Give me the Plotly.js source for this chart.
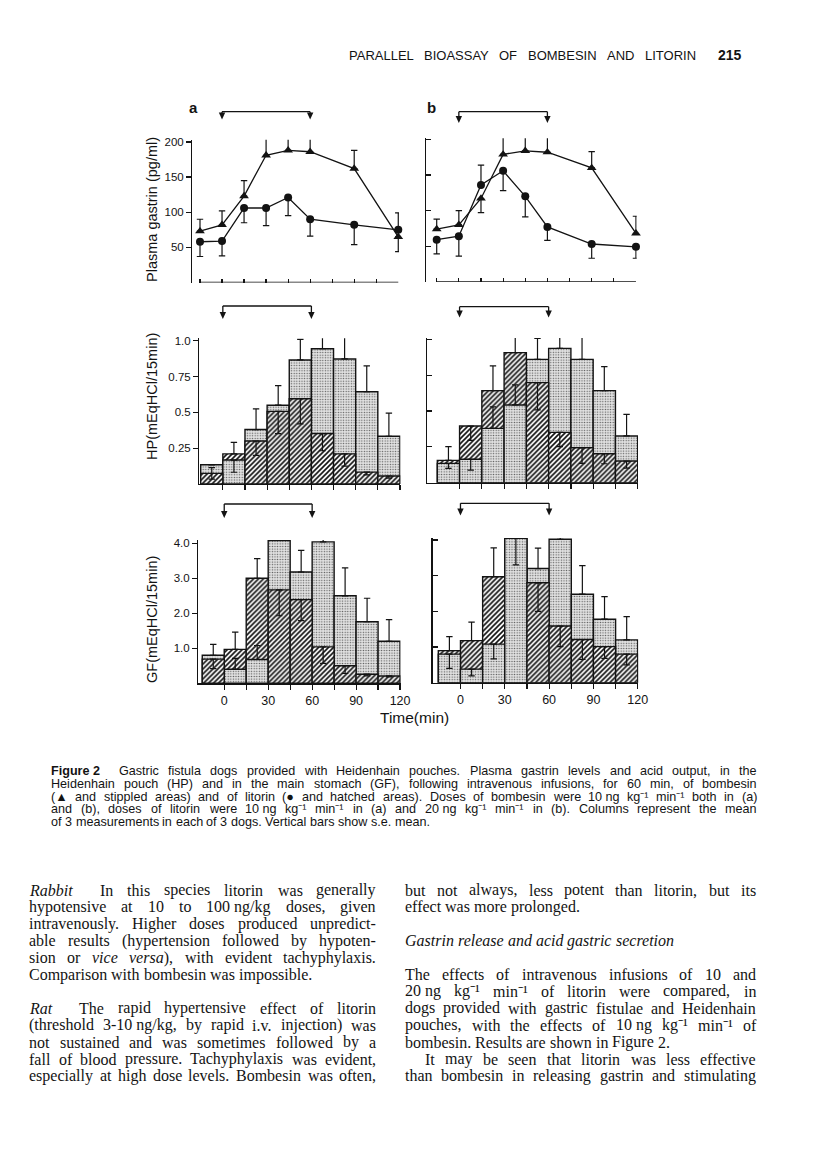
<!DOCTYPE html>
<html><head><meta charset="utf-8">
<script src="https://cdn.plot.ly/plotly-3.0.1.min.js"></script>
<style>html,body{margin:0;padding:0;background:#fff}#chart{width:816px;height:1170px}</style>
</head><body><div id="chart"></div>
<script>
// ================= DATA =================
const gastrinTimes = [-15, 0, 15, 30, 45, 60, 90, 120];
const bombesinGastrinA = [73, 82, 123, 181, 188, 186, 162, 65];
const bombesinGastrinA_errUp = [17, 20, 22, 27, 26, 28, 26, 0];
const bombesinGastrinA_errDown = [0, 0, 0, 0, 0, 0, 0, 21];
const litorinGastrinA = [58, 59, 106, 106, 121, 90, 82, 75];
const litorinGastrinA_errUp = [0, 0, 0, 0, 0, 0, 0, 24];
const litorinGastrinA_errDown = [21, 21, 21, 25, 26, 24, 28, 0];
const bombesinGastrinB = [74, 80, 117, 179, 184, 182, 160, 68];
const bombesinGastrinB_errUp = [14, 20, 0, 26, 25, 28, 23, 24];
const bombesinGastrinB_errDown = [0, 0, 20, 0, 0, 0, 0, 0];
const litorinGastrinB = [59, 64, 136, 156, 120, 77, 53, 49];
const litorinGastrinB_errUp = [0, 0, 28, 0, 0, 0, 0, 0];
const litorinGastrinB_errDown = [20, 28, 0, 28, 29, 19, 20, 16];

const periodMid = [-7.5, 7.5, 22.5, 37.5, 52.5, 67.5, 82.5, 97.5, 112.5];
const periodWidth = 15;

const hpBombesinA = [0.134, 0.167, 0.38, 0.55, 0.866, 0.944, 0.873, 0.644, 0.333];
const hpBombesinA_errUp = [0, 0, 0.145, 0.137, 0.144, 0.144, 0.155, 0.18, 0.162];
const hpBombesinA_errDown = [0, 0.085, 0, 0, 0, 0, 0, 0, 0];
const hpLitorinA = [0.074, 0.21, 0.30, 0.507, 0.595, 0.352, 0.21, 0.083, 0.056];
const hpLitorinA_errUp = [0.04, 0.08, 0, 0, 0, 0, 0, 0, 0];
const hpLitorinA_errDown = [0.04, 0, 0.1, 0.155, 0.175, 0.12, 0.085, 0.02, 0.015];

const hpBombesinB = [0.135, 0.163, 0.379, 0.542, 0.86, 0.937, 0.86, 0.642, 0.326];
const hpBombesinB_errUp = [0, 0, 0.15, 0.14, 0.147, 0.147, 0.159, 0.168, 0.151];
const hpBombesinB_errDown = [0.035, 0.075, 0, 0, 0, 0, 0, 0, 0];
const hpLitorinB = [0.156, 0.395, 0.642, 0.907, 0.698, 0.351, 0.244, 0.202, 0.151];
const hpLitorinB_errUp = [0.095, 0, 0.172, 0.177, 0, 0, 0, 0, 0];
const hpLitorinB_errDown = [0, 0.1, 0, 0, 0.19, 0.1, 0.109, 0.07, 0.05];

const gfBombesinA = [0.80, 0.40, 0.68, 4.08, 3.18, 4.04, 2.50, 1.76, 1.20];
const gfBombesinA_errUp = [0.31, 0.31, 0.40, 0.75, 0.62, 0.72, 0.80, 0.67, 0.62];
const gfBombesinA_errDown = [0, 0, 0, 0, 0, 0, 0, 0, 0];
const gfLitorinA = [0.69, 0.97, 3.00, 2.67, 2.39, 1.04, 0.50, 0.26, 0.21];
const gfLitorinA_errUp = [0, 0.49, 0.56, 0, 0, 0, 0, 0, 0];
const gfLitorinA_errDown = [0.27, 0, 0, 0.74, 0.60, 0.47, 0.22, 0.05, 0.03];

const gfBombesinB = [0.80, 0.38, 1.08, 4.05, 3.20, 4.02, 2.48, 1.78, 1.20];
const gfBombesinB_errUp = [0, 0, 0, 0, 0.57, 0.68, 0.80, 0.63, 0.65];
const gfBombesinB_errDown = [0.40, 0.19, 0.41, 0.75, 0, 0, 0, 0, 0];
const gfLitorinB = [0.90, 1.18, 2.97, 4.19, 2.80, 1.59, 1.21, 1.01, 0.80];
const gfLitorinB_errUp = [0.39, 0.52, 0.81, 0.63, 0, 0, 0, 0, 0];
const gfLitorinB_errDown = [0, 0, 0, 0, 0.80, 0.58, 0.56, 0.33, 0.30];

const infusionWindow = [0, 60];
const timeTicksAll = [-15, 0, 15, 30, 45, 60, 75, 90, 105, 120];
const timeTicks = [0, 15, 30, 45, 60, 75, 90, 105, 120];
const timeLabelVals = [0, 30, 60, 90, 120];
const timeLabels = ['0', '30', '60', '90', '120'];
const gastrinTicks = [50, 100, 150, 200];
const gastrinTickLabels = ['50', '100', '150', '200'];
const hpTicks = [0.25, 0.5, 0.75, 1.0];
const hpTickLabels = ['0.25', '0.5', '0.75', '1.0'];
const gfTicks = [1, 2, 3, 4];
const gfTickLabels = ['1.0', '2.0', '3.0', '4.0'];

const panelLetters = ['a', 'b'];
const yTitles = ['Plasma gastrin (pg/ml)', 'HP(mEqHCl/15min)', 'GF(mEqHCl/15min)'];
const xTitle = 'Time(min)';
const headerWords = 'PARALLEL BIOASSAY OF BOMBESIN AND LITORIN';
const pageNumber = '215';

const captionLines = [
  '<b>Figure\u00a02</b>  Gastric fistula dogs provided with Heidenhain pouches. Plasma gastrin levels and acid output, in the',
  'Heidenhain pouch (HP) and in the main stomach (GF), following intravenous infusions, for 60 min, of bombesin',
  '(\u25b2 and stippled areas) and of litorin (\u25cf and hatched areas). Doses of bombesin were 10\u00a0ng kg\u207b\u00b9 min\u207b\u00b9 both in (a)',
  'and (b), doses of litorin were 10\u00a0ng kg\u207b\u00b9 min\u207b\u00b9 in (a) and 20\u00a0ng kg\u207b\u00b9 min\u207b\u00b9 in (b). Columns represent the mean',
  'of 3 measurements in each of 3 dogs. Vertical bars show s.e. mean.'
];
const leftColumnLines = [
  ['<i>Rabbit</i>  In this species litorin was generally', true],
  ['hypotensive at 10 to 100\u00a0ng/kg doses, given', true],
  ['intravenously. Higher doses produced unpredict-', true],
  ['able results (hypertension followed by hypoten-', true],
  ['sion or <i>vice versa</i>), with evident tachyphylaxis.', true],
  ['Comparison with bombesin was impossible.', false],
  ['', false],
  ['<i>Rat</i>  The rapid hypertensive effect of litorin', true],
  ['(threshold 3-10\u00a0ng/kg, by rapid i.v. injection) was', true],
  ['not sustained and was sometimes followed by a', true],
  ['fall of blood pressure. Tachyphylaxis was evident,', true],
  ['especially at high dose levels. Bombesin was often,', true]
];
const rightColumnLines = [
  ['but not always, less potent than litorin, but its', true],
  ['effect was more prolonged.', false],
  ['', false],
  ['<i>Gastrin release and acid gastric secretion</i>', false],
  ['', false],
  ['The effects of intravenous infusions of 10 and', true],
  ['20\u00a0ng kg\u207b\u00b9 min\u207b\u00b9 of litorin were compared, in', true],
  ['dogs provided with gastric fistulae and Heidenhain', true],
  ['pouches, with the effects of 10\u00a0ng kg\u207b\u00b9 min\u207b\u00b9 of', true],
  ['bombesin. Results are shown in Figure 2.', false],
  ['It may be seen that litorin was less effective', true, 20],
  ['than bombesin in releasing gastrin and stimulating', true]
];

// ================= LAYOUT HELPERS =================
const W = 816, H = 1170;
const INK = '#131313';
const SANS = '"Liberation Sans", Arial, sans-serif';
const SERIF = '"Liberation Serif", "Times New Roman", serif';
const px = v => v / W;
const py = v => 1 - v / H;

const panels = [
  {id: '',  xd: [192.3, 399.0], yd: [139.8, 282.5], xr: [-20.24, 120.5], yr: [0, 203],   kind: 'line', col: 0, brk: [111.7, 119.5]},
  {id: '2', xd: [426.0, 636.7], yd: [138.3, 281.7], xr: [-22.25, 120.5], yr: [0, 201.6], kind: 'line', col: 1, brk: [111.7, 123]},
  {id: '3', xd: [199.3, 400.4], yd: [338.3, 484.0], xr: [-15.95, 120.3], yr: [0, 1.017], kind: 'hp', col: 0, brk: [306, 319]},
  {id: '4', xd: [427.3, 638.0], yd: [338.0, 482.7], xr: [-21.74, 120.2], yr: [0, 1.009], kind: 'hp', col: 1, brk: [306.7, 317.5]},
  {id: '5', xd: [198.3, 400.5], yd: [540.0, 683.3], xr: [-17.7, 120.3],  yr: [0, 4.094], kind: 'gf', col: 0, brk: [504, 518]},
  {id: '6', xd: [432.7, 638.2], yd: [538.0, 682.7], xr: [-18.8, 120.3],  yr: [0, 4.056], kind: 'gf', col: 1, brk: [503.3, 515.5]}
];

const layout = {
  width: W, height: H, margin: {l: 0, r: 0, t: 0, b: 0},
  paper_bgcolor: '#fff', plot_bgcolor: 'rgba(0,0,0,0)',
  showlegend: false, barmode: 'overlay', hovermode: false,
  annotations: [], shapes: []
};
const traces = [];

const stipPattern = {shape: '.', fgcolor: '#5a5a5a', bgcolor: '#e0e0e0', size: 2.6, solidity: 0.22};
const hatchPattern = {shape: '/', fgcolor: '#121212', bgcolor: '#ffffff', size: 3.5, solidity: 0.47};

function errSpec(up, down) {
  return {type: 'data', symmetric: false, array: up, arrayminus: down,
          color: INK, thickness: 1.2, width: 3.2, visible: true};
}
function pick(arr, mask) { return arr.map((v, i) => mask[i] ? v : null); }

function addBars(p, stip, stipUp, stipDn, hatch, hatchUp, hatchDn) {
  const xa = 'x' + p.id, ya = 'y' + p.id;
  const stipBack = stip.map((v, i) => v >= hatch[i]);
  const hatchBack = hatch.map((v, i) => v > stip[i]);
  const order = [
    [stip, stipUp, stipDn, stipBack, stipPattern],
    [hatch, hatchUp, hatchDn, hatchBack, hatchPattern],
    [stip, stipUp, stipDn, stipBack.map(b => !b), stipPattern],
    [hatch, hatchUp, hatchDn, hatchBack.map(b => !b), hatchPattern]
  ];
  order.forEach(([vals, up, dn, mask, pat]) => {
    traces.push({
      type: 'bar', x: periodMid, y: pick(vals, mask), width: periodWidth,
      xaxis: xa, yaxis: ya, hoverinfo: 'skip',
      marker: {color: pat.bgcolor, pattern: Object.assign({fillmode: 'replace'}, pat),
               line: {color: INK, width: 1.4}},
      error_y: errSpec(pick(up, mask), pick(dn, mask))
    });
  });
}
function addLines(p, vals, up, dn, symbol) {
  traces.push({
    type: 'scatter', mode: 'lines+markers', x: gastrinTimes, y: vals,
    xaxis: 'x' + p.id, yaxis: 'y' + p.id, hoverinfo: 'skip', cliponaxis: false,
    line: {color: INK, width: 1.3},
    marker: {symbol: symbol, size: symbol === 'circle' ? 8 : 8.5, color: INK},
    error_y: errSpec(up, dn)
  });
}

panels.forEach(p => {
  const xk = 'xaxis' + p.id, yk = 'yaxis' + p.id;
  const isA = p.col === 0;
  const ticks = p.kind === 'line' ? [gastrinTicks, gastrinTickLabels]
              : p.kind === 'hp' ? [hpTicks, hpTickLabels] : [gfTicks, gfTickLabels];
  const xa = {
    domain: [px(p.xd[0]), px(p.xd[1])], range: p.xr, anchor: 'y' + p.id,
    showgrid: false, zeroline: false, fixedrange: true,
    showline: p.kind !== 'line', linecolor: INK, linewidth: 1.3,
    tickmode: 'array',
    ticks: p.kind === 'line' ? 'inside' : 'outside', ticklen: p.kind === 'line' ? 4 : 5,
    tickwidth: 1.2, tickcolor: INK,
    tickfont: {family: SANS, size: 12.5, color: INK}
  };
  if (p.kind === 'gf') {
    xa.tickvals = timeLabelVals; xa.ticktext = timeLabels; xa.showticklabels = true;
    xa.minor = {tickmode: 'array', tickvals: timeTicks, ticks: 'outside', ticklen: 5, tickwidth: 1.2, tickcolor: INK, showgrid: false};
  } else {
    xa.tickvals = p.kind === 'line' ? timeTicksAll : timeTicks;
    xa.showticklabels = false;
  }
  layout[xk] = xa;
  layout[yk] = {
    domain: [py(p.yd[1]), py(p.yd[0])], range: p.yr, anchor: 'x' + p.id,
    showgrid: false, zeroline: false, fixedrange: true,
    showline: true, linecolor: INK, linewidth: 1.3,
    tickmode: 'array', tickvals: ticks[0], ticktext: ticks[1],
    showticklabels: isA, ticks: isA ? 'outside' : 'inside', ticklen: 5,
    tickwidth: 1.2, tickcolor: INK,
    tickfont: {family: SANS, size: 11.5, color: INK}
  };
  if (p.kind === 'line') {
    layout.shapes.push({type: 'line', xref: 'x' + p.id, yref: 'y' + p.id,
      x0: timeTicksAll[0], x1: timeTicksAll[timeTicksAll.length - 1], y0: 0, y1: 0,
      line: {color: INK, width: 1.3}});
  }
  // infusion bracket: horizontal bar, two drops with arrowheads
  layout.shapes.push({type: 'line', xref: 'x' + p.id, yref: 'paper',
    x0: infusionWindow[0], x1: infusionWindow[1], y0: py(p.brk[0]), y1: py(p.brk[0]),
    line: {color: INK, width: 1.3}});
  infusionWindow.forEach(t => {
    layout.shapes.push({type: 'line', xref: 'x' + p.id, yref: 'paper',
      x0: t, x1: t, y0: py(p.brk[0]), y1: py(p.brk[1] - 4),
      line: {color: INK, width: 1.3}});
    layout.shapes.push({type: 'path', xref: 'x' + p.id, yref: 'paper',
      xsizemode: 'pixel', ysizemode: 'pixel', xanchor: t, yanchor: py(p.brk[1]),
      path: 'M-3.2,7 L3.2,7 L0,0 Z', fillcolor: INK, line: {width: 0}});
  });
});

addLines(panels[0], bombesinGastrinA, bombesinGastrinA_errUp, bombesinGastrinA_errDown, 'triangle-up');
addLines(panels[0], litorinGastrinA, litorinGastrinA_errUp, litorinGastrinA_errDown, 'circle');
addLines(panels[1], bombesinGastrinB, bombesinGastrinB_errUp, bombesinGastrinB_errDown, 'triangle-up');
addLines(panels[1], litorinGastrinB, litorinGastrinB_errUp, litorinGastrinB_errDown, 'circle');
addBars(panels[2], hpBombesinA, hpBombesinA_errUp, hpBombesinA_errDown, hpLitorinA, hpLitorinA_errUp, hpLitorinA_errDown);
addBars(panels[3], hpBombesinB, hpBombesinB_errUp, hpBombesinB_errDown, hpLitorinB, hpLitorinB_errUp, hpLitorinB_errDown);
addBars(panels[4], gfBombesinA, gfBombesinA_errUp, gfBombesinA_errDown, gfLitorinA, gfLitorinA_errUp, gfLitorinA_errDown);
addBars(panels[5], gfBombesinB, gfBombesinB_errUp, gfBombesinB_errDown, gfLitorinB, gfLitorinB_errUp, gfLitorinB_errDown);

// ---- figure labels ----
function note(text, x, y, opts) {
  layout.annotations.push(Object.assign({text, x: px(x), y: py(y), xref: 'paper', yref: 'paper',
    showarrow: false, xanchor: 'center', yanchor: 'middle', borderpad: 0,
    font: {family: SANS, size: 14, color: INK}}, opts || {}));
}
note('<b>' + panelLetters[0] + '</b>', 193, 107, {font: {family: SANS, size: 15, color: INK}});
note('<b>' + panelLetters[1] + '</b>', 431, 107, {font: {family: SANS, size: 15, color: INK}});
const yTitleCenters = [210, 397, 620];
yTitles.forEach((t, i) => note(t, 152, yTitleCenters[i], {textangle: -90, font: {family: SANS, size: 14.5, color: INK}}));
note(xTitle, 414, 717, {font: {family: SANS, size: 15.5, color: INK}});

// ---- justified text ----
const ctx = document.createElement('canvas').getContext('2d');
function segs(html) {
  const out = []; let b = false, it = false, last = 0, m;
  const re = /<(\/?)(b|i)>/g;
  while ((m = re.exec(html))) {
    if (m.index > last) out.push({t: html.slice(last, m.index), b, it});
    const on = !m[1];
    if (m[2] === 'b') b = on; else it = on;
    last = re.lastIndex;
  }
  if (last < html.length) out.push({t: html.slice(last), b, it});
  return out;
}
function measure(html, size, family) {
  return segs(html).reduce((w, s) => {
    ctx.font = (s.it ? 'italic ' : '') + (s.b ? 'bold ' : '') + size + 'px ' + family;
    return w + ctx.measureText(s.t).width;
  }, 0);
}
// split a line into words, carrying open <b>/<i> tags across word boundaries
function tokenize(line) {
  const st = {b: false, i: false};
  return line.split(' ').map(t => {
    if (t === '') return '';
    const pre = (st.b ? '<b>' : '') + (st.i ? '<i>' : '');
    const re = /<(\/?)(b|i)>/g; let m;
    while ((m = re.exec(t))) st[m[2]] = !m[1];
    const post = (st.i ? '</i>' : '') + (st.b ? '</b>' : '');
    return pre + t + post;
  });
}
function textLine(line, x0, x1, y, size, family, justify) {
  if (!line) return;
  const toks = tokenize(line);
  const ws = toks.map(t => t === '' ? 0 : measure(t, size, family));
  const total = ws.reduce((a, b) => a + b, 0);
  const gap = (justify && toks.length > 1) ? (x1 - x0 - total) / (toks.length - 1) : measure(' ', size, family);
  let x = x0;
  toks.forEach((t, k) => {
    if (t !== '') {
      layout.annotations.push({text: t, x: px(x), y: py(y), xref: 'paper', yref: 'paper',
        xanchor: 'left', yanchor: 'middle', showarrow: false, borderpad: 0,
        font: {family, size, color: INK}});
    }
    x += ws[k] + gap;
  });
}

// header
textLine(headerWords, 348, 695, 55, 13, SANS, true);
note('<b>' + pageNumber + '</b>', 730, 55, {font: {family: SANS, size: 14, color: INK}});

// caption
captionLines.forEach((l, i) => textLine(l, 50, 756, 771 + i * 12.8, 12.6, SANS, i < captionLines.length - 1));

// body columns
const bodyTop = 890, bodyStep = 16.9, bodySize = 16;
leftColumnLines.forEach((l, i) => textLine(l[0], 28 + (l[2] || 0), 375, bodyTop + i * bodyStep, bodySize, SERIF, l[1]));
rightColumnLines.forEach((l, i) => textLine(l[0], 404 + (l[2] || 0), 755, bodyTop + i * bodyStep, bodySize, SERIF, l[1]));

Plotly.newPlot('chart', traces, layout, {staticPlot: true, displayModeBar: false});
</script>
</body></html>
